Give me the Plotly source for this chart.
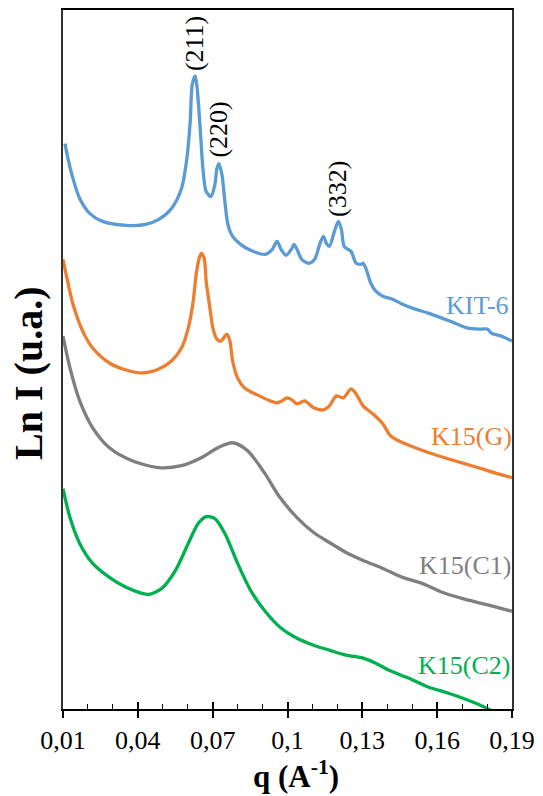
import plotly.graph_objects as go

# Scattering vector q (1/Angstrom) and log-intensity (arbitrary units, curves offset vertically)
q_kit6 = [0.0108, 0.0120, 0.0140, 0.0167, 0.0207, 0.0258, 0.0353, 0.0432, 0.0484, 0.0535,
          0.0575, 0.0595, 0.0610, 0.0618, 0.0630, 0.0638, 0.0650, 0.0662, 0.0674, 0.0693,
          0.0709, 0.0717, 0.0725, 0.0737, 0.0749, 0.0761, 0.0780, 0.0812, 0.0852, 0.0911,
          0.0939, 0.0958, 0.0974, 0.0994, 0.1018, 0.1026, 0.1038, 0.1057, 0.1085, 0.1109,
          0.1129, 0.1144, 0.1156, 0.1168, 0.1188, 0.1204, 0.1216, 0.1227, 0.1243, 0.1255,
          0.1275, 0.1295, 0.1303, 0.1314, 0.1334, 0.1354, 0.1382, 0.1421, 0.1461, 0.1512,
          0.1564, 0.1619, 0.1671, 0.1722, 0.1777, 0.1801, 0.1817, 0.1856, 0.1900]
i_kit6 = [567, 552, 532, 512, 497, 489, 485, 486, 491, 502,
          522, 549, 589, 626, 635, 622, 582, 539, 519, 514,
          526, 542, 547, 536, 509, 486, 474, 466, 460, 456,
          461, 469, 461, 455, 462, 466, 461, 451, 447, 451,
          466, 474, 467, 464, 479, 489, 481, 464, 461, 459,
          447, 446, 447, 442, 427, 419, 414, 411, 406, 401,
          397, 392, 387, 382, 381, 381, 377, 374, 369]

q_g = [0.0100, 0.0116, 0.0140, 0.0179, 0.0219, 0.0286, 0.0353, 0.0416, 0.0484, 0.0535,
       0.0575, 0.0602, 0.0622, 0.0634, 0.0646, 0.0654, 0.0666, 0.0674, 0.0689, 0.0701,
       0.0717, 0.0733, 0.0749, 0.0757, 0.0769, 0.0780, 0.0800, 0.0828, 0.0879, 0.0931,
       0.0958, 0.0978, 0.0998, 0.1018, 0.1038, 0.1069, 0.1105, 0.1144, 0.1168, 0.1196,
       0.1224, 0.1255, 0.1275, 0.1303, 0.1342, 0.1382, 0.1413, 0.1445, 0.1512, 0.1580,
       0.1643, 0.1710, 0.1777, 0.1856, 0.1900]
i_g = [451, 432, 406, 379, 362, 347, 340, 337, 341, 349,
       362, 382, 409, 436, 452, 457, 452, 429, 402, 382,
       371, 369, 374, 376, 369, 349, 332, 322, 315, 309,
       307, 309, 312, 310, 306, 309, 302, 300, 304, 314,
       312, 321, 316, 304, 296, 286, 274, 269, 262, 256,
       251, 246, 241, 235, 232]

q_c1 = [0.0100, 0.0128, 0.0167, 0.0219, 0.0286, 0.0377, 0.0484, 0.0575, 0.0654, 0.0721,
        0.0780, 0.0840, 0.0907, 0.0970, 0.1038, 0.1105, 0.1168, 0.1235, 0.1303, 0.1382,
        0.1461, 0.1540, 0.1619, 0.1698, 0.1777, 0.1856, 0.1900]
i_c1 = [374, 342, 309, 282, 262, 249, 242, 244, 252, 262,
        267, 259, 237, 212, 192, 177, 167, 157, 149, 141,
        132, 126, 117, 111, 106, 101, 98]

q_c2 = [0.0100, 0.0128, 0.0167, 0.0219, 0.0286, 0.0353, 0.0416, 0.0444, 0.0496, 0.0551,
        0.0602, 0.0642, 0.0674, 0.0709, 0.0749, 0.0800, 0.0852, 0.0907, 0.0970, 0.1038,
        0.1105, 0.1168, 0.1235, 0.1303, 0.1354, 0.1405, 0.1485, 0.1564, 0.1643, 0.1722,
        0.1789, 0.1829, 0.1900]
i_c2 = [221, 192, 166, 146, 132, 122, 116, 115, 121, 139,
        166, 186, 193, 191, 176, 146, 119, 99, 82, 71,
        64, 59, 54, 51, 46, 39, 31, 22, 16, 9,
        2, -3, -10]

series_names = ["KIT-6", "K15(G)", "K15(C1)", "K15(C2)"]
series_colors = ["#5B9BD5", "#ED7D31", "#7F7F7F", "#00B050"]
series_q = [q_kit6, q_g, q_c1, q_c2]
series_i = [i_kit6, i_g, i_c1, i_c2]

# Series label anchors (right edge) in data coordinates, kept inside the q range
label_q = [0.1890, 0.1895, 0.1895, 0.1895]
label_i = [405, 273, 144, 44]
label_shift = [1, 3, 2, 1]

# Miller indices of the KIT-6 reflections
peak_text = ["(211)", "(220)", "(332)"]
peak_q = [0.0630, 0.0725, 0.1200]
peak_i = [667, 581, 522]

tick_vals = [0.01, 0.04, 0.07, 0.10, 0.13, 0.16, 0.19]
tick_text = ["0,01", "0,04", "0,07", "0,1", "0,13", "0,16", "0,19"]

SERIF = '"Liberation Serif", "Times New Roman", serif'

fig = go.Figure()
for name, color, qs, ys in zip(series_names, series_colors, series_q, series_i):
    fig.add_trace(go.Scatter(
        x=qs, y=ys, mode="lines", name=name,
        line=dict(color=color, width=3.3, shape="spline", smoothing=0.8),
        showlegend=False,
    ))

# invisible trace so the overlay axis carrying the inner tick marks is drawn
fig.add_trace(go.Scatter(x=[tick_vals[0]], y=[0], xaxis="x2", mode="markers",
                         marker=dict(opacity=0), showlegend=False, hoverinfo="skip"))

for name, color, lq, li, sh in zip(series_names, series_colors, label_q, label_i, label_shift):
    fig.add_annotation(x=lq, y=li, text=name, showarrow=False, xanchor="right",
                       yanchor="middle", xshift=sh,
                       font=dict(family=SERIF, size=26, color=color))

for t, pq, pi in zip(peak_text, peak_q, peak_i):
    fig.add_annotation(x=pq, y=pi, text=t, showarrow=False, textangle=-90,
                       xanchor="center", yanchor="middle",
                       font=dict(family=SERIF, size=26, color="#000000"))

fig.add_annotation(xref="paper", yref="paper", x=-0.077, y=0.48, text="<b>Ln I (u.a.)</b>",
                   textangle=-90, showarrow=False, xanchor="center", yanchor="middle",
                   font=dict(family=SERIF, size=40, color="#000000"))
fig.add_annotation(xref="paper", yref="paper", x=0.518, y=-0.093, yanchor="middle",
                   xanchor="center",
                   text="<b>q (A<sup>-1</sup>)</b>", showarrow=False,
                   font=dict(family=SERIF, size=31, color="#000000"))

fig.update_layout(
    width=543, height=796,
    margin=dict(l=63, r=25, t=8, b=87),
    paper_bgcolor="white", plot_bgcolor="white",
    xaxis=dict(
        range=[0.01, 0.19], tickvals=tick_vals, ticktext=tick_text,
        ticks="outside", ticklen=7, tickwidth=1.5, tickcolor="#000000",
        showline=True, linecolor="#000000", linewidth=1.5, mirror=True,
        showgrid=False, zeroline=False,
        tickfont=dict(family=SERIF, size=26, color="#000000"),
    ),
    xaxis2=dict(
        range=[0.01, 0.19], overlaying="x", tickvals=tick_vals, showticklabels=False,
        ticks="inside", ticklen=7, tickwidth=1.5, tickcolor="#000000",
        showgrid=False, zeroline=False, showline=False,
        minor=dict(ticks="inside", ticklen=5, tickwidth=1.2, tickcolor="#000000",
                   dtick=0.01, tick0=0.01, showgrid=False),
    ),
    yaxis=dict(
        range=[0, 701], showticklabels=False, ticks="",
        showline=True, linecolor="#333333", linewidth=2, mirror=True,
        showgrid=False, zeroline=False,
    ),
)

fig.write_html("out.html")
